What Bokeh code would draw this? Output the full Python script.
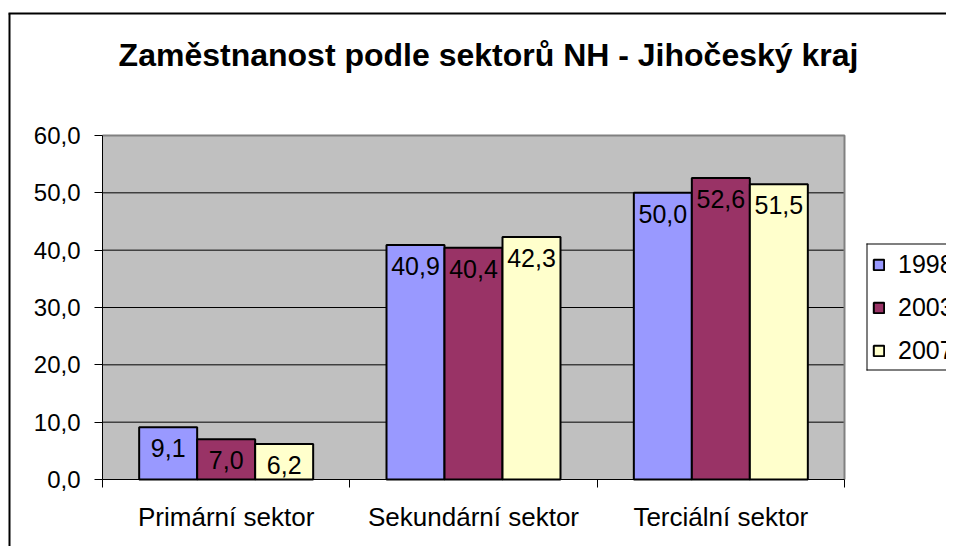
from bokeh.plotting import figure
from bokeh.models import (ColumnDataSource, Range1d, FixedTicker, Label, Legend,
                          LegendItem, BoxAnnotation, CustomJSTickFormatter)
from bokeh.core.properties import value
from bokeh.embed import file_html
from bokeh.resources import INLINE

# ---- data ----
sectors = ["Primární sektor", "Sekundární sektor", "Terciální sektor"]
years = ["1998", "2003", "2007"]
v1998 = [9.1, 40.9, 50.0]
v2003 = [7.0, 40.4, 52.6]
v2007 = [6.2, 42.3, 51.5]
y_ticks = [0, 10, 20, 30, 40, 50, 60]
title_text = "Zaměstnanost podle sektorů NH - Jihočeský kraj"

series = [v1998, v2003, v2007]
colors = ["#9999FF", "#993366", "#FFFFCC"]
FONT = "Liberation Sans"

# ---- layout (pixels) ----
W, H = 946, 546
PL, PR, PT, PB = 102, 844, 135, 479     # plot-area box
ncat = len(sectors)
ymax = y_ticks[-1]
kx = (PR - PL) / ncat
ky = (PB - PT) / ymax

p = figure(width=W, height=H, output_backend="svg", toolbar_location=None,
           x_range=Range1d(-PL / kx, (W - PL) / kx),
           y_range=Range1d(-(H - PB) / ky, ymax + PT / ky),
           min_border=0)
p.min_border_left = p.min_border_right = p.min_border_top = p.min_border_bottom = 0
p.background_fill_color = "white"
p.border_fill_color = "white"
p.outline_line_color = None
p.xgrid.visible = False
p.ygrid.visible = False

# plot area
p.quad(left=0, right=ncat, bottom=0, top=ymax, fill_color="#C0C0C0", line_color=None)
p.segment(x0=[0] * (len(y_ticks) - 2), x1=[ncat] * (len(y_ticks) - 2),
          y0=y_ticks[1:-1], y1=y_ticks[1:-1], line_color="black", line_width=1)
p.line(x=[0, ncat, ncat], y=[ymax, ymax, 0], line_color="#808080", line_width=2)

bw = 0.2345
offsets = [-bw, 0.0, bw]
renderers = []
for vals, col, off, yr in zip(series, colors, offsets, years):
    src = ColumnDataSource(dict(
        x=[i + 0.5 + off for i in range(ncat)],
        top=vals,
        lab=[f"{v:.1f}".replace(".", ",") for v in vals],
    ))
    r = p.vbar(x="x", top="top", bottom=0, width=bw, source=src,
               fill_color=col, line_color="black", line_width=2)
    renderers.append((yr, r))
    p.text(x="x", y="top", text="lab", source=src, text_align="center",
           text_baseline="middle", y_offset=21, text_font=value(FONT),
           text_font_size="25px", text_color="black")

# y axis
ya = p.yaxis[0]
ya.fixed_location = 0
ya.bounds = (0, ymax)
ya.ticker = FixedTicker(ticks=y_ticks, minor_ticks=[])
ya.formatter = CustomJSTickFormatter(code="return tick.toFixed(1).replace('.', ',');")
ya.major_tick_in = 0
ya.major_tick_out = 8
ya.minor_tick_line_color = None
ya.axis_line_color = "black"
ya.major_tick_line_color = "black"
ya.major_label_text_font = FONT
ya.major_label_text_font_size = "24px"
ya.major_label_text_color = "black"
ya.major_label_standoff = 14

# x axis: labels at centres, ticks at boundaries
xa = p.xaxis[0]
xa.fixed_location = 0
xa.bounds = (0, ncat)
xa.ticker = FixedTicker(ticks=[i + 0.5 for i in range(ncat)],
                        minor_ticks=list(range(ncat + 1)))
xa.major_label_overrides = {i + 0.5: s for i, s in enumerate(sectors)}
xa.major_tick_in = 0
xa.major_tick_out = 0
xa.minor_tick_in = 0
xa.minor_tick_out = 8
xa.minor_tick_line_color = "black"
xa.axis_line_color = "black"
xa.major_label_text_font = FONT
xa.major_label_text_font_size = "26px"
xa.major_label_text_color = "black"
xa.major_label_standoff = 14


def edge(l, r_, t, b, color="black"):
    """Thin filled strip in screen pixels (top-left origin)."""
    p.add_layout(BoxAnnotation(left=l, right=r_, top=H - t, bottom=H - b,
                               left_units="screen", right_units="screen",
                               top_units="screen", bottom_units="screen",
                               fill_color=color, fill_alpha=1, line_color=None))


# outer chart frame (left and top edges; right/bottom run off the picture)
edge(8, 10, 13, H + 20)
edge(8, W + 20, 12, 14)

# title
p.add_layout(Label(x=488, y=H - 54, x_units="screen", y_units="screen",
                   text=title_text, text_align="center", text_baseline="alphabetic",
                   text_font=FONT, text_font_size="32px", text_font_style="bold",
                   text_color="black"))

legend = Legend(items=[LegendItem(label=yr, renderers=[r]) for yr, r in renderers],
                location=(872, H - 365), orientation="vertical")
legend.glyph_width = 13
legend.glyph_height = 13
legend.padding = 6
legend.spacing = 14
legend.label_standoff = 13
legend.label_text_font = FONT
legend.label_text_font_size = "25px"
legend.label_text_color = "black"
legend.border_line_color = None
legend.background_fill_color = None
p.add_layout(legend, "center")

# legend box edges (box runs off the right edge of the picture)
edge(866, W + 20, 243, 244)
edge(866, W + 20, 369, 370)
edge(866, 867, 243, 370)

open("out.html", "w").write(file_html(p, INLINE))
